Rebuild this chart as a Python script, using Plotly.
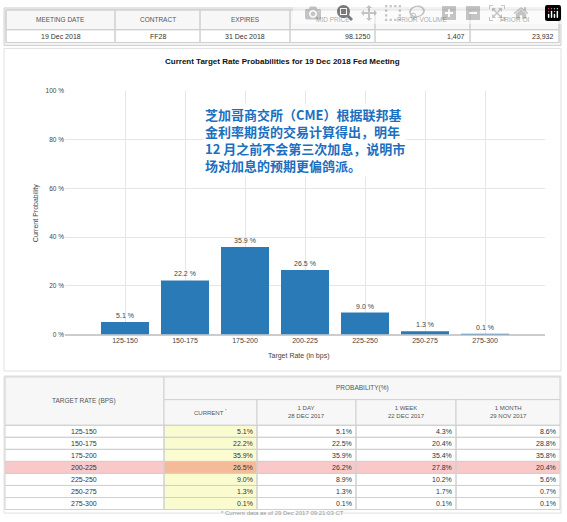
import plotly.graph_objects as go

W, H = 567, 522
categories = ["125-150", "150-175", "175-200", "200-225", "225-250", "250-275", "275-300"]
current = [5.1, 22.2, 35.9, 26.5, 9.0, 1.3, 0.1]
one_day = [5.1, 22.5, 35.9, 26.2, 8.9, 1.3, 0.1]
one_week = [4.3, 20.4, 35.4, 27.8, 10.2, 1.7, 0.1]
one_month = [8.6, 28.8, 35.8, 20.4, 5.6, 0.7, 0.1]
top_headers = ["MEETING DATE", "CONTRACT", "EXPIRES", "MID PRICE", "PRIOR VOLUME", "PRIOR OI"]
top_values = ["19 Dec 2018", "FF28", "31 Dec 2018", "98.1250", "1,407", "23,932"]
note = "芝加哥商交所（CME）根据联邦基<br>金利率期货的交易计算得出，明年<br>12 月之前不会第三次加息，说明市<br>场对加息的预期更偏鸽派。"

def X(p): return p / W
def Y(p): return 1 - p / H

shapes, anns = [], []
GRID = "#d0d0d0"
FONT = "Liberation Sans"

def rect(x0, y0, x1, y1, fill="rgba(0,0,0,0)", line=GRID, w=1):
    shapes.append(dict(type="rect", xref="paper", yref="paper", x0=X(x0), x1=X(x1), y0=Y(y1), y1=Y(y0),
                       fillcolor=fill, line=dict(color=line, width=w), layer="below"))

def txt(x, y, s, size=7, color="#333", anchor="center", bold=False, font=FONT):
    anns.append(dict(xref="paper", yref="paper", x=X(x), y=Y(y), text=("<b>%s</b>" % s) if bold else s,
                     showarrow=False, xanchor=anchor, yanchor="middle",
                     font=dict(size=size, color=color, family=font)))

# top table
rect(4, 4, 561, 42, fill="#f4f4f4")
rect(6, 6, 559, 39, fill="white")
rect(6, 6, 559, 26, fill="#f7f7f7")
tb = [6, 115, 200, 290, 375, 470, 559]
for i, (h, v) in enumerate(zip(top_headers, top_values)):
    rect(tb[i], 6, tb[i + 1], 26)
    rect(tb[i], 26, tb[i + 1], 39)
    txt((tb[i] + tb[i + 1]) / 2, 16, h, size=6.5, color="#555")
    if i in (3, 4, 5):
        txt(tb[i + 1] - 3, 32.5, v, anchor="right")
    else:
        txt((tb[i] + tb[i + 1]) / 2, 32.5, v)

# chart panel
rect(4, 45, 561, 372, fill="white", line="#e0e0e0")
txt(282, 58, "Current Target Rate Probabilities for 19 Dec 2018 Fed Meeting", size=8, color="#111", bold=True)
anns.append(dict(xref="paper", yref="paper", x=X(203), y=Y(100), text="<b>" + note + "</b>", showarrow=False,
                 xanchor="left", yanchor="top", align="left", bgcolor="white",
                 font=dict(size=13, color="#1a6fc0", family="Noto Sans CJK SC"),))
txt(298, 357, "Target Rate (in bps)", size=7, color="#444")
anns.append(dict(xref="paper", yref="paper", x=X(30), y=Y(212), text="Current Probability", textangle=-90,
                 showarrow=False, font=dict(size=7, color="#444", family=FONT)))

# bottom table
rect(4, 377, 561, 516, fill="white", line="#e0e0e0")
cb = [5, 164, 257, 356, 456, 560]
rt = 427
rh = 12.2
rect(cb[1], rt, cb[2], rt + rh * 7, fill="#fbfbd0", line="rgba(0,0,0,0)")
rect(cb[0], rt + rh * 3, cb[5], rt + rh * 4, fill="#f9c8c8", line="rgba(0,0,0,0)")
rect(cb[1], rt + rh * 3, cb[2], rt + rh * 4, fill="#f5bb98", line="rgba(0,0,0,0)")
rect(cb[0], 378, cb[1], rt, fill="#f7f7f7")
rect(cb[1], 378, cb[5], 401, fill="#f7f7f7")
txt(84, 402, "TARGET RATE (BPS)", size=6.5, color="#555")
txt(362, 389, "PROBABILITY(%)", size=6.5, color="#555")
subh = ["CURRENT <sup>*</sup>", "1 DAY<br>28 DEC 2017", "1 WEEK<br>22 DEC 2017", "1 MONTH<br>29 NOV 2017"]
for j in range(4):
    rect(cb[j + 1], 401, cb[j + 2], rt, fill="#f7f7f7")
    txt((cb[j + 1] + cb[j + 2]) / 2, 414, subh[j], size=6, color="#555")
cols = [current, one_day, one_week, one_month]
for i, c in enumerate(categories):
    y0 = rt + rh * i
    for j in range(5):
        rect(cb[j], y0, cb[j + 1], y0 + rh)
    txt(84, y0 + rh / 2, c, size=7)
    for j, col in enumerate(cols):
        txt(cb[j + 2] - 2, y0 + rh / 2, "%.1f%%" % col[i], size=7, anchor="right")
txt(282, 516, "* Current data as of 29 Dec 2017 09:21:03 CT", size=6, color="#999")

fig = go.Figure(go.Bar(x=categories, y=current, marker=dict(color="#2a7ab8", line=dict(width=0)),
                       width=0.8, text=["%.1f %%" % v for v in current], textposition="outside",
                       textfont=dict(size=7, color="#444", family=FONT), cliponaxis=False))
fig.update_layout(
    width=W, height=H, margin=dict(l=0, r=0, t=0, b=0), autosize=False,
    paper_bgcolor="white", plot_bgcolor="white", showlegend=False,
    shapes=shapes, annotations=anns,
    xaxis=dict(domain=[X(65), X(545)], range=[-1, 7], showgrid=True, gridcolor="#e6e6e6",
               tickfont=dict(size=7, color="#444", family=FONT), ticks="", showline=False,
               tickvals=list(range(7)), ticktext=categories),
    yaxis=dict(domain=[Y(335), Y(88)], range=[0, 100], dtick=20, ticksuffix=" %",
               gridcolor="#e6e6e6", tickfont=dict(size=6.5, color="#444", family=FONT),
               zeroline=True, zerolinecolor="#ccc"),
)
fig.write_html("out.html", post_script="document.body.style.margin='0';document.body.style.overflow='hidden';")
